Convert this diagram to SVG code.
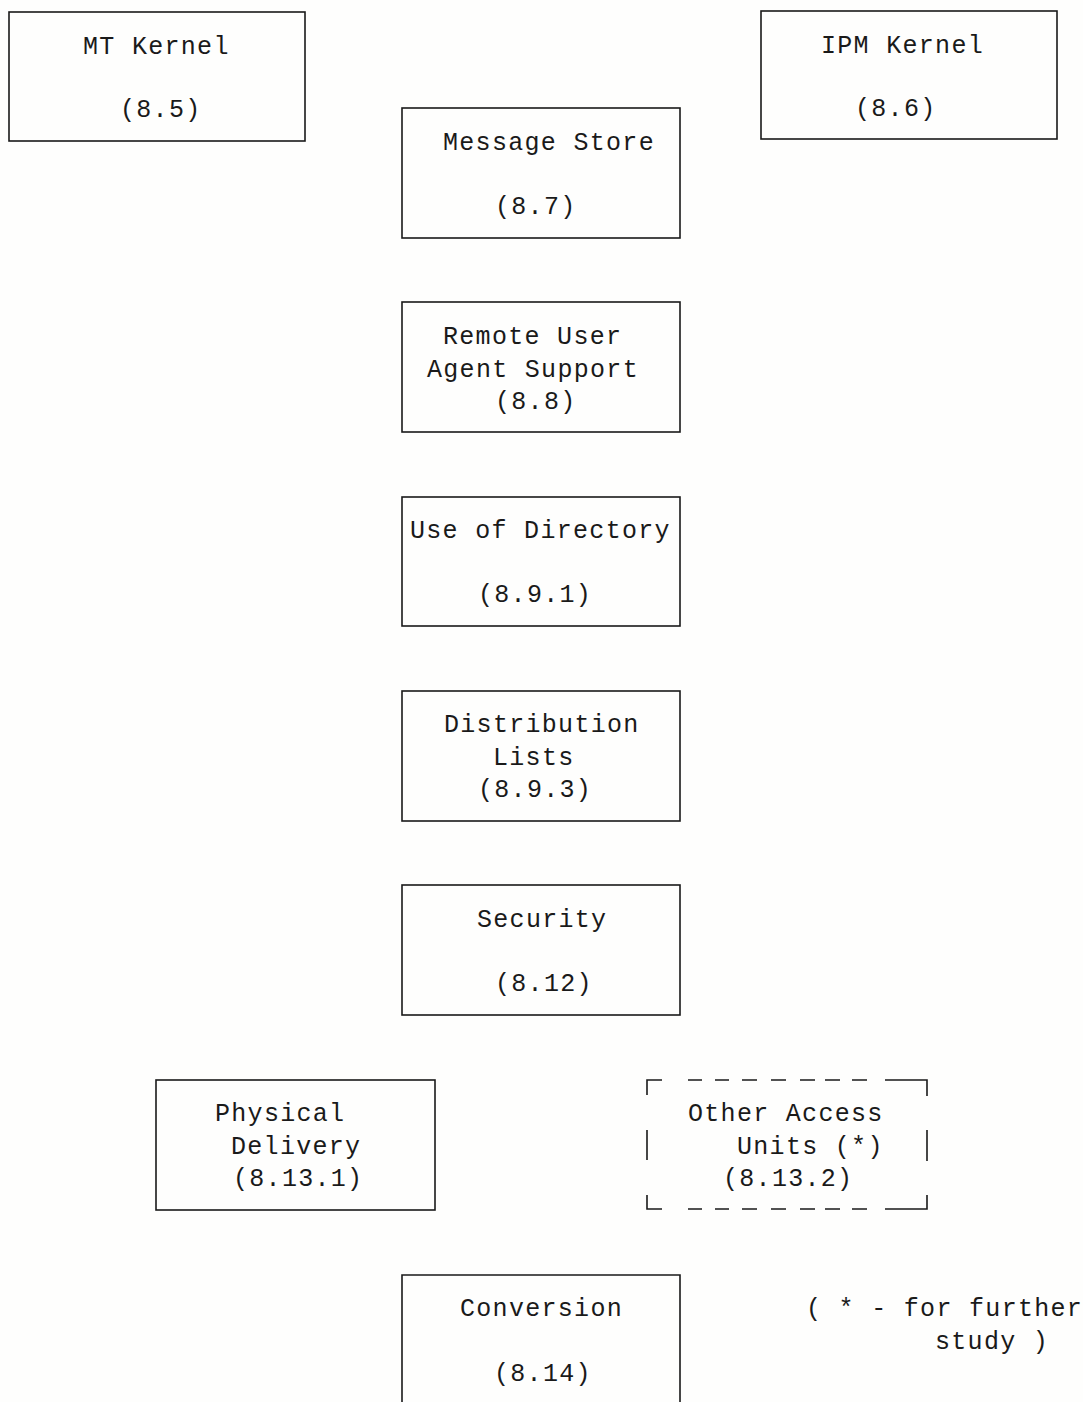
<svg xmlns="http://www.w3.org/2000/svg" width="1083" height="1402" viewBox="0 0 1083 1402">
<style>
.box{fill:none;stroke:#1a1a1a;stroke-width:1.6}
.dash{fill:none;stroke:#1a1a1a;stroke-width:1.6}
text{font-family:"Liberation Mono","DejaVu Sans Mono",monospace;font-size:25px;letter-spacing:1.3px;fill:#1a1a1a}
</style>
<rect width="1083" height="1402" fill="#fefefd"/>
<g id="connectors"></g>
<g id="mt-kernel"><rect class="box" x="9" y="12" width="296" height="129"/><text x="83" y="54">MT Kernel</text><text x="120" y="117">(8.5)</text></g>
<g id="ipm-kernel"><rect class="box" x="761" y="11" width="296" height="128"/><text x="821" y="53">IPM Kernel</text><text x="855" y="116">(8.6)</text></g>
<g id="message-store"><rect class="box" x="402" y="108" width="278" height="130"/><text x="443" y="150">Message Store</text><text x="495" y="214">(8.7)</text></g>
<g id="remote-ua"><rect class="box" x="402" y="302" width="278" height="130"/><text x="443" y="344">Remote User</text><text x="427" y="377">Agent Support</text><text x="495" y="409">(8.8)</text></g>
<g id="directory"><rect class="box" x="402" y="497" width="278" height="129"/><text x="410" y="538">Use of Directory</text><text x="478" y="602">(8.9.1)</text></g>
<g id="dl"><rect class="box" x="402" y="691" width="278" height="130"/><text x="444" y="732">Distribution</text><text x="493" y="765">Lists</text><text x="478" y="797">(8.9.3)</text></g>
<g id="security"><rect class="box" x="402" y="885" width="278" height="130"/><text x="477" y="927">Security</text><text x="495" y="991">(8.12)</text></g>
<g id="physical"><rect class="box" x="156" y="1080" width="279" height="130"/><text x="215" y="1121">Physical</text><text x="231" y="1154">Delivery</text><text x="233" y="1186">(8.13.1)</text></g>
<g id="other-au">
<path class="dash" d="M647,1095 V1080 H662 M688,1080 H702 M715,1080 H729 M742,1080 H757 M771,1080 H786 M800,1080 H815 M825,1080 H840 M852,1080 H867 M885,1080 H927 V1096 M647,1130 V1160 M927,1130 V1161 M647,1195 V1209 H662 M688,1209 H702 M715,1209 H729 M742,1209 H757 M771,1209 H786 M800,1209 H815 M825,1209 H840 M852,1209 H867 M885,1209 H927 V1195"/>
<text x="688" y="1121">Other Access</text><text x="737" y="1154">Units (*)</text><text x="723" y="1186">(8.13.2)</text></g>
<g id="conversion"><path class="box" d="M402,1402 V1275 H680 V1402"/><text x="460" y="1316">Conversion</text><text x="494" y="1381">(8.14)</text></g>
<g id="note"><text x="806" y="1316">( * - for further</text><text x="935" y="1349">study )</text></g>
</svg>
